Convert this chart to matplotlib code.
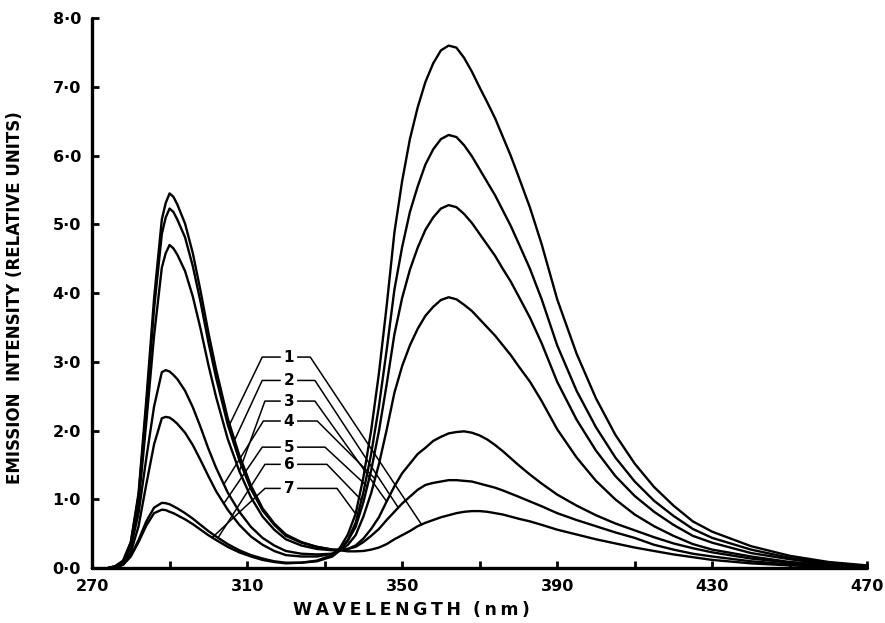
import numpy as np
import matplotlib
matplotlib.use("Agg")
import matplotlib.pyplot as plt
from matplotlib.ticker import FixedLocator

# Emission wavelength grid (nm)
wavelength = [270, 274, 276, 278, 280, 282, 284, 286, 288, 289,
              290, 291, 292, 294, 296, 298, 300, 302, 305, 308,
              311, 314, 317, 320, 324, 328, 332, 334, 336, 338,
              340, 342, 344, 346, 348, 350, 352, 354, 356, 358,
              360, 362, 364, 366, 368, 370, 372, 374, 376, 378,
              380, 383, 386, 390, 395, 400, 405, 410, 415, 420,
              425, 430, 440, 450, 460, 470]

# Emission intensity (relative units) for spectra 1-7
spectrum_1 = [0, 0, 0.03, 0.11, 0.38, 1.09, 2.45, 3.92, 5.07, 5.31,
              5.45, 5.40, 5.29, 5.01, 4.58, 4.03, 3.43, 2.89, 2.18, 1.64,
              1.20, 0.87, 0.65, 0.49, 0.38, 0.31, 0.27, 0.26, 0.245, 0.245,
              0.25, 0.27, 0.30, 0.35, 0.42, 0.48, 0.54, 0.61, 0.66, 0.70,
              0.74, 0.77, 0.80, 0.82, 0.83, 0.83, 0.82, 0.80, 0.78, 0.75,
              0.72, 0.68, 0.63, 0.56, 0.49, 0.42, 0.36, 0.30, 0.25, 0.20,
              0.16, 0.12, 0.07, 0.04, 0.02, 0.005]
spectrum_2 = [0, 0, 0.03, 0.10, 0.37, 1.05, 2.35, 3.77, 4.86, 5.10,
              5.23, 5.18, 5.07, 4.81, 4.39, 3.87, 3.29, 2.77, 2.09, 1.57,
              1.15, 0.84, 0.63, 0.47, 0.37, 0.31, 0.27, 0.27, 0.28, 0.31,
              0.38, 0.47, 0.57, 0.70, 0.82, 0.94, 1.04, 1.14, 1.21, 1.24,
              1.26, 1.28, 1.28, 1.27, 1.26, 1.23, 1.20, 1.17, 1.13, 1.085,
              1.04, 0.97, 0.90, 0.80, 0.70, 0.61, 0.52, 0.44, 0.34, 0.27,
              0.21, 0.17, 0.10, 0.055, 0.025, 0.01]
spectrum_3 = [0, 0, 0.02, 0.09, 0.33, 0.94, 2.12, 3.38, 4.37, 4.58,
              4.70, 4.65, 4.56, 4.32, 3.95, 3.48, 2.96, 2.49, 1.88, 1.41,
              1.03, 0.75, 0.56, 0.42, 0.33, 0.28, 0.26, 0.26, 0.28, 0.33,
              0.43, 0.57, 0.74, 0.97, 1.19, 1.38, 1.52, 1.66, 1.75, 1.85,
              1.91, 1.96, 1.98, 1.99, 1.97, 1.93, 1.87, 1.79, 1.70, 1.60,
              1.50, 1.36, 1.23, 1.07, 0.91, 0.77, 0.65, 0.55, 0.45, 0.36,
              0.29, 0.23, 0.14, 0.08, 0.04, 0.015]
spectrum_4 = [0, 0, 0.02, 0.08, 0.30, 0.80, 1.60, 2.35, 2.85, 2.88,
              2.86, 2.81, 2.75, 2.58, 2.34, 2.05, 1.74, 1.46, 1.10, 0.82,
              0.60, 0.44, 0.33, 0.25, 0.21, 0.20, 0.21, 0.26, 0.34, 0.48,
              0.75, 1.09, 1.51, 2.01, 2.55, 2.94, 3.24, 3.48, 3.67, 3.80,
              3.90, 3.94, 3.91, 3.83, 3.74, 3.62, 3.50, 3.38, 3.24, 3.10,
              2.94, 2.71, 2.43, 2.02, 1.61, 1.27, 1.00, 0.78, 0.61, 0.47,
              0.35, 0.27, 0.17, 0.09, 0.05, 0.02]
spectrum_5 = [0, 0, 0.015, 0.06, 0.23, 0.61, 1.22, 1.80, 2.18, 2.20,
              2.19, 2.15, 2.10, 1.97, 1.79, 1.57, 1.34, 1.12, 0.85, 0.63,
              0.46, 0.34, 0.25, 0.19, 0.17, 0.17, 0.21, 0.28, 0.40, 0.60,
              0.96, 1.42, 1.99, 2.67, 3.40, 3.93, 4.34, 4.66, 4.92, 5.10,
              5.23, 5.28, 5.25, 5.15, 5.02, 4.86, 4.70, 4.54, 4.35, 4.17,
              3.96, 3.64, 3.27, 2.71, 2.16, 1.71, 1.34, 1.05, 0.82, 0.63,
              0.47, 0.37, 0.22, 0.13, 0.06, 0.03]
spectrum_6 = [0, 0, 0.01, 0.05, 0.18, 0.41, 0.68, 0.88, 0.95, 0.945,
              0.93, 0.90, 0.87, 0.80, 0.72, 0.63, 0.54, 0.46, 0.35, 0.26,
              0.19, 0.14, 0.10, 0.08, 0.08, 0.10, 0.17, 0.26, 0.41, 0.66,
              1.10, 1.66, 2.35, 3.17, 4.05, 4.67, 5.18, 5.55, 5.87, 6.09,
              6.24, 6.30, 6.27, 6.15, 5.99, 5.80, 5.61, 5.42, 5.20, 4.98,
              4.73, 4.35, 3.91, 3.24, 2.58, 2.05, 1.61, 1.26, 0.98, 0.76,
              0.57, 0.44, 0.27, 0.15, 0.08, 0.03]
spectrum_7 = [0, 0, 0.01, 0.05, 0.17, 0.38, 0.62, 0.80, 0.85, 0.845,
              0.82, 0.80, 0.77, 0.71, 0.64, 0.56, 0.48, 0.41, 0.31, 0.23,
              0.17, 0.12, 0.09, 0.07, 0.08, 0.11, 0.19, 0.30, 0.49, 0.79,
              1.32, 2.00, 2.83, 3.81, 4.88, 5.63, 6.24, 6.70, 7.07, 7.34,
              7.53, 7.60, 7.57, 7.42, 7.22, 6.99, 6.77, 6.54, 6.27, 6.00,
              5.70, 5.24, 4.71, 3.91, 3.12, 2.47, 1.94, 1.52, 1.18, 0.91,
              0.68, 0.53, 0.32, 0.18, 0.09, 0.04]

spectra = [spectrum_1, spectrum_2, spectrum_3, spectrum_4, spectrum_5, spectrum_6, spectrum_7]
curve_labels = ["1", "2", "3", "4", "5", "6", "7"]

x_tick_labels = ["270", "310", "350", "390", "430", "470"]
y_tick_labels = ["0·0", "1·0", "2·0", "3·0", "4·0", "5·0", "6·0", "7·0", "8·0"]

# Label block layout: heights of the numbers and where each leader meets its curve
label_x = 320.8
label_y = [3.07, 2.73, 2.43, 2.14, 1.76, 1.51, 1.16]
left_knee = [313.9, 313.9, 314.6, 314.2, 313.9, 314.6, 314.6]
left_end = [305.5, 306.5, 308.0, 304.0, 304.0, 302.5, 301.0]
right_knee = [326.3, 327.5, 327.5, 328.1, 330.1, 330.6, 333.2]
right_end = [355.0, 349.0, 346.0, 343.0, 341.0, 339.5, 338.0]

fig = plt.figure(figsize=(8.85, 6.23), dpi=100)
ax = fig.add_axes([0.104, 0.088, 0.876, 0.883])

for s in spectra:
    ax.plot(wavelength, s, color="black", lw=1.7, solid_joinstyle="round",
            solid_capstyle="round", clip_on=False, zorder=3)

wl = np.asarray(wavelength, dtype=float)
for i, lab in enumerate(curve_labels):
    s = np.asarray(spectra[i], dtype=float)
    ly = label_y[i]
    ax.text(label_x, ly, lab, ha="center", va="center", fontsize=11,
            fontweight="bold", family="DejaVu Sans", zorder=5)
    # left leader
    yl = np.interp(left_end[i], wl, s)
    ax.plot([label_x - 2.3, left_knee[i], left_end[i]], [ly, ly, yl],
            color="black", lw=1.1, zorder=4)
    # right leader
    yr = np.interp(right_end[i], wl, s)
    ax.plot([label_x + 2.3, right_knee[i], right_end[i]], [ly, ly, yr],
            color="black", lw=1.1, zorder=4)

ax.set_xlim(270, 470)
ax.set_ylim(0, 8)

ax.xaxis.set_major_locator(FixedLocator([270, 310, 350, 390, 430, 470]))
ax.xaxis.set_minor_locator(FixedLocator([290, 330, 370, 410, 450]))
ax.set_xticklabels(x_tick_labels)
ax.set_yticks(range(0, 9))
ax.set_yticklabels(y_tick_labels)

for side in ("top", "right"):
    ax.spines[side].set_visible(False)
for side in ("left", "bottom"):
    ax.spines[side].set_linewidth(2.4)
    ax.spines[side].set_capstyle("round")

ax.tick_params(axis="both", which="both", direction="in", length=5, width=2,
               color="black")
ax.tick_params(axis="x", which="major", pad=8)
ax.tick_params(axis="y", which="major", pad=8)
for t in ax.get_xticklabels() + ax.get_yticklabels():
    t.set_fontweight("bold")
    t.set_fontsize(11.5)

thin = "\u2009"
xlabel_text = thin.join("WAVELENGTH") + "  " + thin.join("(nm)")
fig.text(411 / 885, 1 - 610 / 623, xlabel_text, ha="center",
         va="center", fontsize=12.5, fontweight="bold")
fig.text(15 / 885, 1 - 298 / 623, "EMISSION  INTENSITY (RELATIVE UNITS)", ha="center",
         va="center", rotation=90, fontsize=12, fontweight="bold")

fig.savefig("out.png", dpi=100, facecolor="white")
